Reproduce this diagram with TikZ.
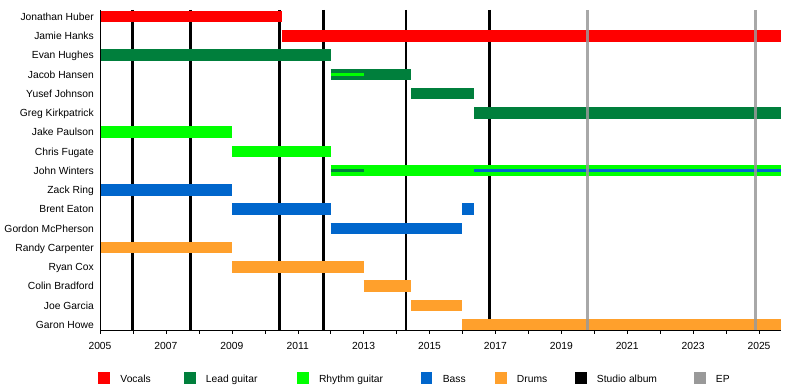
\documentclass[tikz,border=0pt]{standalone}
\usepackage{fontspec}
\setmainfont{Liberation Sans}
\usepackage{tikz}
\usetikzlibrary{positioning}
\definecolor{cVoc}{HTML}{FF0000}
\definecolor{cLead}{HTML}{007F3C}
\definecolor{cRhy}{HTML}{00FF00}
\definecolor{cBass}{HTML}{0066CC}
\definecolor{cDrum}{HTML}{FFA02C}
\definecolor{cEp}{HTML}{999999}
\newcommand{\mainsz}{\fontsize{10.3}{12}\selectfont}
\tikzset{
  bar/.style  ={line width=11.5pt},
  thin/.style ={line width=3.5pt},
  alb/.style  ={line width=2.7pt,black},
  ep/.style   ={line width=2.7pt,cEp,opacity=.85},
  txt/.style  ={inner sep=0pt,font=\mainsz,text height=7.4pt,text depth=0pt},
  who/.style  ={txt,anchor=east},
  sw/.style   ={minimum size=11.7pt,inner sep=0pt},
  key/.style  ={txt,anchor=west},
}

\begin{document}
\begin{tikzpicture}[x=1pt,y=-1pt,
  declare function={yr(\t)=100+32.95*(\t-2005); rw(\r)=16.7+19.25*\r;}]
\useasboundingbox (0,0) rectangle (800,390);
% members
\foreach \r/\name in {0/Jonathan Huber,1/Jamie Hanks,2/Evan Hughes,3/Jacob Hansen,
    4/Yusef Johnson,5/Greg Kirkpatrick,6/Jake Paulson,7/Chris Fugate,8/John Winters,
    9/Zack Ring,10/Brent Eaton,11/Gordon McPherson,12/Randy Carpenter,13/Ryan Cox,
    14/Colin Bradford,15/Joe Garcia,16/Garon Howe}
  \node[who] (m\r) at (94,{rw(\r)}) {\name};

% studio albums, behind the bars
\foreach \t in {2005.99,2007.75,2010.45,2011.78,2014.29,2016.82}
  \draw[alb] ({yr(\t)},10) -- ({yr(\t)},330);

% bars
\foreach \r/\a/\b/\c in {0/2005/2010.51/cVoc,1/2010.51/2025.67/cVoc,
    2/2005/2012/cLead,3/2012/2014.44/cLead,4/2014.44/2016.36/cLead,5/2016.36/2025.67/cLead,
    6/2005/2009/cRhy,7/2009/2012/cRhy,8/2012/2025.67/cRhy,
    9/2005/2009/cBass,10/2009/2012/cBass,10/2016/2016.36/cBass,11/2012/2016/cBass,
    12/2005/2009/cDrum,13/2009/2013/cDrum,14/2013/2014.44/cDrum,15/2014.44/2016/cDrum,
    16/2016/2025.67/cDrum}
  \draw[bar,\c] ({yr(\a)},{rw(\r)}) -- ({yr(\b)},{rw(\r)});
\draw[thin,cRhy]  ({yr(2012)},{rw(3)}) -- ({yr(2013)},{rw(3)});
\draw[thin,cLead] ({yr(2012)},{rw(8)}) -- ({yr(2013)},{rw(8)});
\draw[thin,cBass] ({yr(2016.36)},{rw(8)}) -- ({yr(2025.67)},{rw(8)});

% EPs
\foreach \t in {2019.79,2024.9}
  \draw[ep] ({yr(\t)},10) -- ({yr(\t)},330);

% axis
\draw (100,10) -- (100,330) -- (781,330);
\foreach \t in {2005,...,2025}
  \draw ({yr(\t)},330) -- ({yr(\t)},334);
\foreach \t in {2005,2007,...,2025}
  \node[txt] (y\t) at ({yr(\t)},345.7) {\t};

% legend
\foreach \k/\c/\x/\lab in {V/cVoc/104.2/Vocals,L/cLead/189.7/Lead guitar,
    R/cRhy/302.8/Rhythm guitar,B/cBass/426.5/Bass,D/cDrum/500.7/Drums,
    S/black/580.7/Studio album,E/cEp/699.7/EP}{
  \node[sw,fill=\c] (k\k) at (\x,378.3) {};
  \node[key,right=10pt of k\k] (t\k) {\lab};
}
\end{tikzpicture}
\end{document}
